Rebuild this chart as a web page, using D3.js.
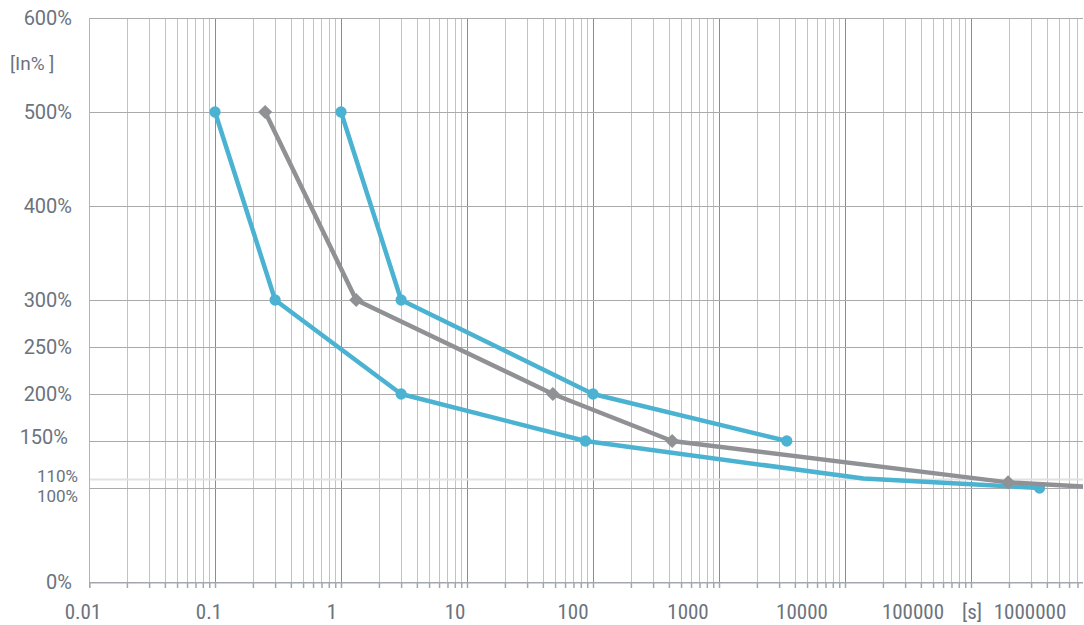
<!DOCTYPE html>
<meta charset="utf-8">
<body style="margin:0;background:white">
  <div id="content"></div>
</body>
<script src="https://d3js.org/d3.v7.min.js"></script>
<script>
// chart geometry
var chart = {
    width: 1084,
    height: 625,
    left: 89,
    top: 18,
    bottom: 582,
    decade: 126
};

// x ticks (seconds) and y ticks (% of In)
var xTicks = [0.01, 0.1, 1, 10, 100, 1000, 10000, 100000, 1000000];
var xTickLabels = ["0.01", "0.1", "1", "10", "100", "1000", "10000", "100000", "1000000"];
var yTicks = [0, 100, 110, 150, 200, 250, 300, 400, 500, 600];
var yTickLabels = ["0%", "100%", "110%", "150%", "200%", "250%", "300%", "400%", "500%", "600%"];

// curves: [time s, current %]
var blueFast = [[0.1, 500], [0.3, 300], [3, 200], [87, 150], [14000, 110], [350000, 100]];
var blueFastMarks = [0, 1, 2, 3, 5];
var blueSlow = [[1, 500], [3, 300], [100, 200], [3450, 150]];
var blueSlowMarks = [0, 1, 2, 3];
var grey = [[0.25, 500], [1.32, 300], [48, 200], [425, 150], [197000, 106], [1000000, 100.7]];
var greyMarks = [0, 1, 2, 3, 4];

// label nudges (the original sheet sets these by hand)
var xLabelShift = [-6, -6, -9, -12, -20, -31, -43, -58, -67];
var yLabelShift = { 100: [6, 7], 110: [6, -4], 150: [-4, -4] };

var colors = {
    blue: '#4bb3d1',
    grey: '#909195',
    text: '#6b737d',
    major: '#8c8c8c',
    minor: '#c2c2c2',
    hgrid: '#aaaaaa',
    axis: '#a3a7ab'
};

window.onload = function () {
    var svg = d3.select('#content').append('svg')
        .attr('width', chart.width).attr('height', chart.height)
        .style('display', 'block').style('background', 'white');

    var x = d3.scaleLog()
        .domain([0.01, 1000000])
        .range([chart.left, chart.left + 8 * chart.decade]);
    var y = d3.scaleLinear()
        .domain([0, 600])
        .range([chart.bottom, chart.top]);

    svg.append('clipPath').attr('id', 'plot')
        .append('rect')
        .attr('x', chart.left).attr('y', 0)
        .attr('width', chart.width - chart.left - 1).attr('height', chart.height);

    // vertical log grid
    var minor = [];
    xTicks.forEach(function (d) {
        for (var m = 1; m < 10; m++) minor.push({ v: d * m, major: m === 1 });
    });
    var grid = svg.append('g').attr('clip-path', 'url(#plot)');
    grid.selectAll('line.v').data(minor).enter().append('line')
        .attr('class', 'v')
        .attr('x1', function (d) { return Math.round(x(d.v)) + 0.5; })
        .attr('x2', function (d) { return Math.round(x(d.v)) + 0.5; })
        .attr('y1', y(600)).attr('y2', y(0))
        .attr('stroke', function (d) { return d.major ? colors.major : colors.minor; })
        .attr('stroke-width', 1);

    // horizontal grid
    grid.selectAll('line.h').data(yTicks.filter(function (d) { return d > 0; })).enter().append('line')
        .attr('class', 'h')
        .attr('x1', chart.left).attr('x2', chart.width)
        .attr('y1', function (d) { return Math.round(y(d)) + 0.5; })
        .attr('y2', function (d) { return Math.round(y(d)) + 0.5; })
        .attr('stroke', function (d) { return d === 110 ? '#e2e2e2' : colors.hgrid; })
        .attr('stroke-width', function (d) { return d === 110 ? 2 : 1; });

    // left edge
    svg.append('line')
        .attr('x1', chart.left + 0.5).attr('x2', chart.left + 0.5)
        .attr('y1', y(600)).attr('y2', y(0))
        .attr('stroke', '#b4b4b4');

    // x axis line + small ticks
    var xAxis = d3.axisBottom(x)
        .tickValues(minor.map(function (d) { return d.v; }))
        .tickSize(6)
        .tickFormat('');
    var ax = svg.append('g')
        .attr('transform', 'translate(0,' + y(0) + ')')
        .attr('clip-path', 'url(#plot)')
        .call(xAxis);
    ax.select('.domain').attr('stroke', colors.axis).attr('stroke-width', 2);
    ax.selectAll('.tick line').attr('stroke', colors.axis).attr('stroke-width', 1.5);

    // x labels
    svg.selectAll('text.xl').data(xTicks).enter().append('text')
        .attr('class', 'xl')
        .attr('x', function (d, i) { return x(d) + xLabelShift[i]; })
        .attr('y', 619)
        .attr('text-anchor', 'middle')
        .attr('font-family', "'Liberation Sans Narrow', 'Roboto Condensed', Roboto, sans-serif")
        .attr('font-size', 21)
        .attr('fill', colors.text)
        .text(function (d, i) { return xTickLabels[i]; });

    svg.append('text')
        .attr('x', 972).attr('y', 619)
        .attr('text-anchor', 'middle')
        .attr('font-family', "'Liberation Sans Narrow', 'Roboto Condensed', Roboto, sans-serif")
        .attr('font-size', 21)
        .attr('fill', colors.text)
        .text('[s]');

    // y labels
    svg.selectAll('text.yl').data(yTicks).enter().append('text')
        .attr('class', 'yl')
        .attr('x', function (d) { return 72 + (yLabelShift[d] ? yLabelShift[d][0] : 0); })
        .attr('y', function (d) { return y(d) + 7 + (yLabelShift[d] ? yLabelShift[d][1] : 0); })
        .attr('text-anchor', 'end')
        .attr('font-family', 'Roboto, sans-serif')
        .attr('font-size', function (d) { return d === 100 || d === 110 ? 17 : 20; })
        .attr('fill', colors.text)
        .text(function (d, i) { return yTickLabels[i]; });

    svg.append('text')
        .attr('x', 10).attr('y', 70)
        .attr('font-family', 'Roboto, sans-serif')
        .attr('font-size', 19)
        .attr('fill', colors.text)
        .text('[In% ]');

    // curves
    var line = d3.line()
        .x(function (d) { return x(d[0]); })
        .y(function (d) { return y(d[1]); });

    var curves = svg.append('g').attr('clip-path', 'url(#plot)');

    function drawCurve(pts, marks, color, shape) {
        curves.append('path')
            .datum(pts)
            .attr('d', line)
            .attr('fill', 'none')
            .attr('stroke', color)
            .attr('stroke-width', 4.5)
            .attr('stroke-linejoin', 'round');
        var sym = d3.symbol().type(shape === 'diamond' ? d3.symbolSquare : d3.symbolCircle)
            .size(100);
        curves.selectAll(null).data(marks.map(function (i) { return pts[i]; })).enter()
            .append('path')
            .attr('d', sym)
            .attr('fill', color)
            .attr('transform', function (d) {
                return 'translate(' + [x(d[0]), y(d[1])] + ')' + (shape === 'diamond' ? ' rotate(45)' : '');
            });
    }

    drawCurve(blueFast, blueFastMarks, colors.blue, 'circle');
    drawCurve(blueSlow, blueSlowMarks, colors.blue, 'circle');
    drawCurve(grey, greyMarks, colors.grey, 'diamond');
};
</script>
